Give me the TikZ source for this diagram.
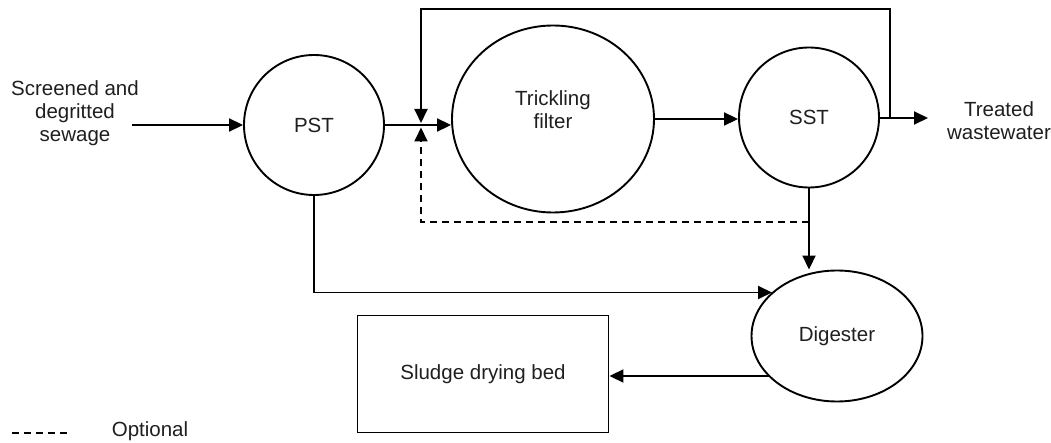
\documentclass[tikz,border=0pt]{standalone}
\usepackage{fontspec}
\setmainfont{Liberation Sans}
\usetikzlibrary{shapes.geometric,arrows.meta}
\begin{document}
\begin{tikzpicture}[x=1pt,y=-1pt,
  every node/.style={font=\fontsize{20.5}{23}\selectfont, text=black!88},
  conn/.style={line width=1.9pt, draw=black},
  arr/.style={conn, -{Triangle[length=14pt,width=13pt]}},
  opt/.style={dash pattern=on 7pt off 5pt},
  unit/.style={draw=black, line width=1.9pt, inner sep=0pt}]
\useasboundingbox (0,0) rectangle (1051,443);
% nodes
\node[align=center] (in) at (75,113) {Screened and\\degritted\\sewage};
\node[unit, circle, minimum size=140pt] (pst) at (314,125) {PST};
\node[unit, ellipse, minimum width=202pt, minimum height=187pt,
  label={[name=tft, align=center, yshift=9pt]center:Trickling\\filter}] (tf) at (553,119) {};
\node[unit, circle, minimum size=140pt] (sst) at (809,117.5) {SST};
\node[unit, ellipse, minimum width=171pt, minimum height=131pt] (dig) at (837,336) {Digester};
\node[unit, rectangle, minimum width=251pt, minimum height=117pt] (bed) at (483,374) {Sludge drying bed};
\node[align=center] (out) at (999,121) {Treated\\wastewater};
\node (leg) at (150,431) {Optional};
% coordinates
\coordinate (inS) at (132,125);
\coordinate (jt) at (421,123);
\coordinate (jb) at (421,127.5);
\coordinate (topL) at (421,9);
\coordinate (r1) at (890,118);
\coordinate (otip) at (928,118);
\coordinate (d1) at (809,222);
\coordinate (dIn) at (772,292.5);
\coordinate (dOut) at (769,376);
\coordinate (lg1) at (12,433);
\coordinate (lg2) at (70,433);
% connectors
\draw[arr] (inS) -- (pst.west);
\draw[arr] (pst.east) -- (pst.east -| tf.west);
\draw[arr] (tf.east) -- (tf.east -| sst.west);
\draw[arr] (sst.east |- otip) -- (otip);
\draw[arr] (r1) |- (topL) -- (jt);
\draw[arr, opt] (d1) -| (jb);
\draw[arr] (sst.south) -- (sst.south |- dig.north);
\draw[arr] (pst.south) |- (dIn);
\draw[arr] (dOut) -- (dOut -| bed.east);
\draw[conn, opt] (lg1) -- (lg2);
\end{tikzpicture}
\end{document}
